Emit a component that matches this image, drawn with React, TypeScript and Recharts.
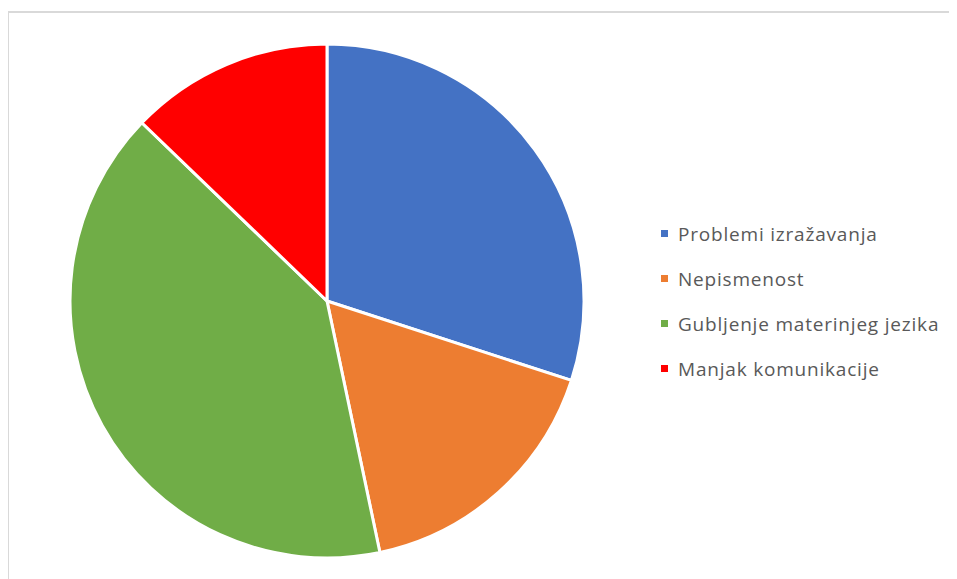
import React from "react";
import { PieChart, Pie, Cell, Legend } from "recharts";

const categories = [
  "Problemi izražavanja",
  "Nepismenost",
  "Gubljenje materinjeg jezika",
  "Manjak komunikacije",
];
const values = [30, 16.7, 40.5, 12.8];
const colors = ["#4472C4", "#ED7D31", "#70AD47", "#FF0000"];

const data = categories.map((name, i) => ({ name, value: values[i] }));

const renderLegend = (props: any) => {
  const { payload } = props;
  return (
    <div
      style={{
        fontFamily: "'Open Sans', sans-serif",
        fontSize: 19,
        letterSpacing: 0.8,
        color: "#595959",
      }}
    >
      {payload.map((entry: any, i: number) => (
        <div key={i} style={{ display: "flex", alignItems: "center", height: 45 }}>
          <span
            style={{
              display: "inline-block",
              width: 7,
              height: 7,
              background: entry.color,
              marginRight: 10,
            }}
          />
          <span>{entry.value}</span>
        </div>
      ))}
    </div>
  );
};

export default function App() {
  return (
    <div style={{ position: "relative", width: 949, height: 571 }}>
      <div
        style={{
          position: "absolute",
          left: -1,
          top: 3,
          width: 960,
          height: 580,
          borderTop: "2px solid #d9d9d9",
          borderLeft: "2px solid #d9d9d9",
          boxSizing: "border-box",
        }}
      />
      <div style={{ position: "absolute", left: 0, top: 0 }}>
        <PieChart
          width={949}
          height={571}
          margin={{ top: 0, right: 0, bottom: 0, left: 0 }}
        >
          <Pie
            data={data}
            dataKey="value"
            nameKey="name"
            cx={319}
            cy={293}
            outerRadius={257}
            startAngle={90}
            endAngle={-270}
            stroke="#ffffff"
            strokeWidth={3}
            isAnimationActive={false}
          >
            {data.map((d, i) => (
              <Cell key={d.name} fill={colors[i]} />
            ))}
          </Pie>
          <Legend
            content={renderLegend}
            layout="vertical"
            itemSorter={null as any}
            wrapperStyle={{ left: 653, top: 203, width: 300 }}
          />
        </PieChart>
      </div>
    </div>
  );
}
